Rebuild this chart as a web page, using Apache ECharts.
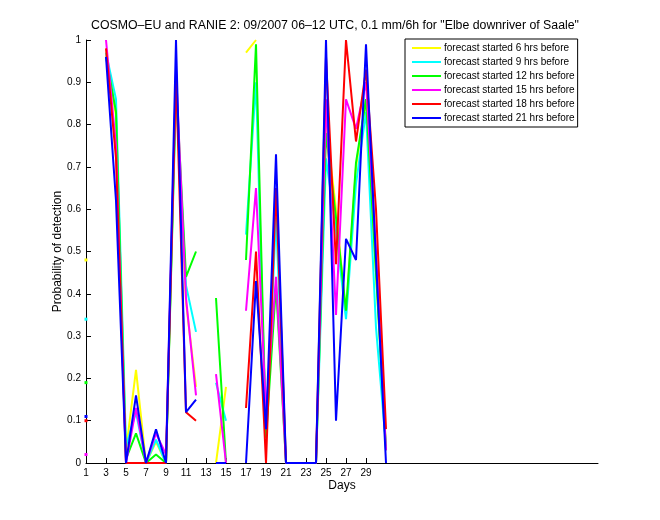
<!DOCTYPE html>
<html>
<head>
<meta charset="utf-8">
<script src="https://cdn.jsdelivr.net/npm/echarts@6/dist/echarts.min.js"></script>
<style>
html,body{margin:0;padding:0;background:#fff;}
#chart{width:660px;height:520px;}
</style>
</head>
<body>
<div id="chart"></div>
<script>
const days = [1,2,3,4,5,6,7,8,9,10,11,12,13,14,15,16,17,18,19,20,21,22,23,24,25,26,27,28,29,30,31];
const seriesNames = [
  'forecast started 6 hrs before',
  'forecast started 9 hrs before',
  'forecast started 12 hrs before',
  'forecast started 15 hrs before',
  'forecast started 18 hrs before',
  'forecast started 21 hrs before'
];
const seriesColors = ['#ffff00','#00ffff','#00ff00','#ff00ff','#ff0000','#0000ff'];
const h06 = [0.48,null,0.97,0.82,0.03,0.22,0,0.05,0,0.88,0.38,0.18,null,0,0.18,null,0.97,1.0,null,null,0,0,0,0,0.80,0.60,0.35,0.70,0.86,0.45,0.04];
const h09 = [0.34,null,0.97,0.86,0.04,0.12,0,0.055,0,0.88,0.42,0.31,null,0.19,0.10,null,0.54,0.90,0.06,0.58,0,0,0,0,0.72,0.55,0.34,0.66,0.83,0.32,0.04];
const h12 = [0.19,null,0.96,0.83,0.01,0.07,0,0.02,0,0.90,0.44,0.50,null,0.39,0,null,0.48,0.99,0.06,0.42,0,0,0,0,0.78,0.58,0.36,0.71,0.86,0.45,0.03];
const h15 = [0.02,null,1.0,0.75,0,0.13,0,0.07,0.02,0.93,0.39,0.16,null,0.21,0,null,0.36,0.65,0.12,0.44,0,0,0,0,0.86,0.35,0.86,0.79,0.90,0.50,0.03];
const h18 = [0.10,null,0.98,0.72,0,0,0,0,0,0.92,0.12,0.10,null,null,null,null,0.13,0.50,0,0.65,0,0,0,0,0.96,0.47,1.0,0.76,0.93,0.60,0.08];
const h21 = [0.11,null,0.96,0.62,0,0.16,0,0.08,0,1.0,0.12,0.15,null,0,0,null,0,0.43,0.08,0.73,0,0,0,0,1.0,0.10,0.53,0.48,0.99,0.48,0];
const allValues = [h06,h09,h12,h15,h18,h21];
const xTicks = [1,3,5,7,9,11,13,15,17,19,21,23,25,27,29];

function isolated(arr, i){
  if (arr[i] === null) return false;
  const prev = i > 0 ? arr[i-1] : null;
  const next = i < arr.length-1 ? arr[i+1] : null;
  return prev === null && next === null;
}

const chart = echarts.init(document.getElementById('chart'), null, {renderer:'canvas'});
const font = 'Liberation Sans, Arial, Helvetica, sans-serif';
const series = allValues.map((vals, k) => ({
  name: seriesNames[k],
  type: 'line',
  data: days.map((d, i) => [d, vals[i] === null ? '-' : vals[i]]),
  showSymbol: true,
  showAllSymbol: true,
  symbol: (v, p) => isolated(vals, p.dataIndex) ? 'rect' : 'none',
  symbolSize: 3,
  itemStyle: {color: seriesColors[k]},
  lineStyle: {color: seriesColors[k], width: 2},
  connectNulls: false,
  animation: false,
  z: 2 + k
}));

chart.setOption({
  animation: false,
  backgroundColor: '#fff',
  title: {
    text: 'COSMO\u2013EU and RANIE 2: 09/2007 06\u201312 UTC, 0.1 mm/6h for "Elbe downriver of Saale"',
    left: 330, top: 15, textAlign: 'center',
    textStyle: {fontFamily: font, fontSize: 12.3, fontWeight: 'normal', color: '#000'}
  },
  grid: {left: 86, right: 62, top: 40, bottom: 57, containLabel: false, outerBoundsMode: 'none'},
  legend: {
    orient: 'vertical',
    left: 405, top: 39,
    padding: [3, 3, 3, 7],
    borderColor: '#000', borderWidth: 1,
    backgroundColor: '#fff',
    icon: 'rect',
    itemWidth: 29, itemHeight: 2, itemGap: 2,
    textStyle: {fontFamily: font, fontSize: 10, color: '#000', lineHeight: 12, padding: [0,0,0,-2]},
    data: seriesNames
  },
  xAxis: {
    type: 'value', min: 1, max: 52.2,
    name: 'Days', nameLocation: 'middle', nameGap: 17, nameMoveOverlap: false,
    nameTextStyle: {fontFamily: font, fontSize: 12, color: '#000'},
    axisLine: {show: true, onZero: false, lineStyle: {color: '#000', width: 1}},
    axisTick: {show: true, inside: true, length: 5, lineStyle: {color: '#000'}, customValues: xTicks},
    axisLabel: {fontFamily: font, fontSize: 10, color: '#000', margin: 5, customValues: xTicks},
    splitLine: {show: false}
  },
  yAxis: {
    type: 'value', min: 0, max: 1, interval: 0.1,
    name: 'Probability of detection', nameLocation: 'middle', nameGap: 22, nameRotate: 90,
    nameMoveOverlap: false,
    nameTextStyle: {fontFamily: font, fontSize: 12, color: '#000'},
    axisLine: {show: true, onZero: false, lineStyle: {color: '#000', width: 1}},
    axisTick: {show: true, inside: true, length: 5, lineStyle: {color: '#000'}},
    axisLabel: {fontFamily: font, fontSize: 10, color: '#000', margin: 5,
      formatter: v => (Math.round(v*10)/10).toString()},
    splitLine: {show: false}
  },
  series: series
});
</script>
</body>
</html>
